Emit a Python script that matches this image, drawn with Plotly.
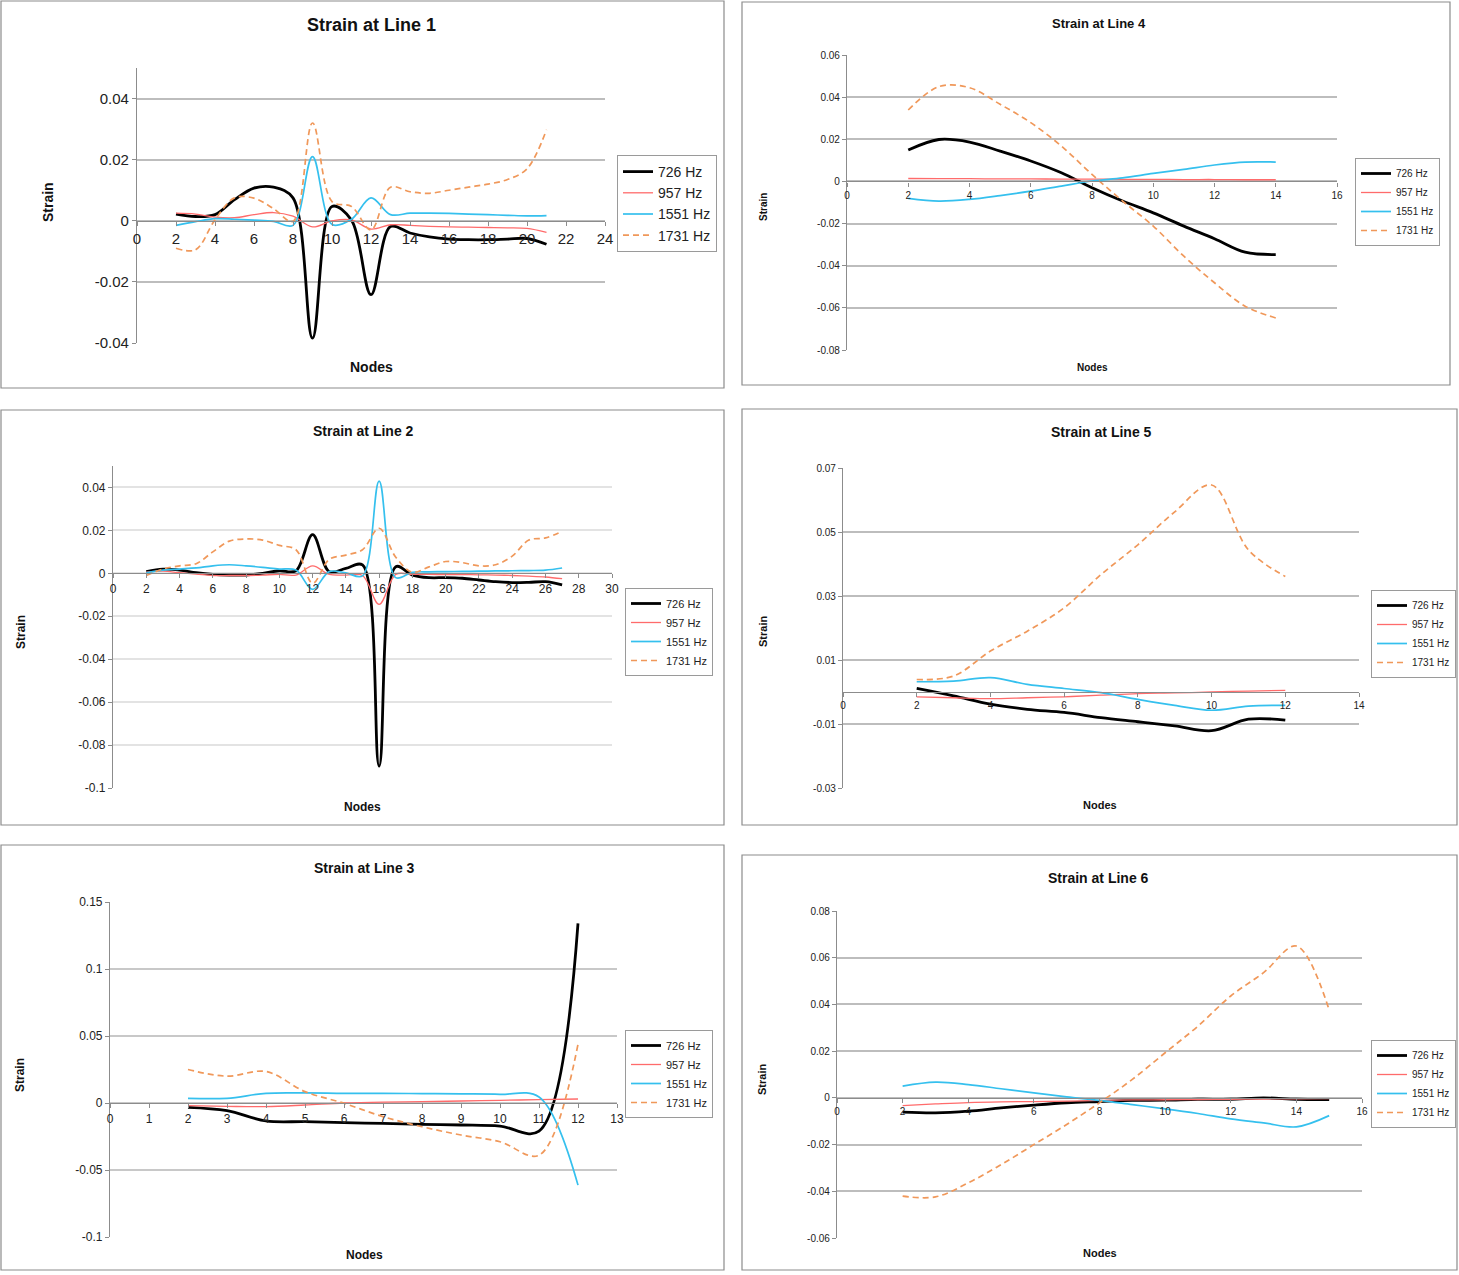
import plotly.graph_objects as go

# ---- data (strain per node) ----
SERIES = ["726 Hz", "957 Hz", "1551 Hz", "1731 Hz"]

L1_NODES = list(range(2, 22))
L1_726 = [0.0022, 0.0014, 0.002, 0.0069, 0.0107, 0.011, 0.0075, -0.0384, 0.0047, 0.0002,
          -0.0242, -0.0019, -0.004, -0.0053, -0.006, -0.0062, -0.0062, -0.006, -0.0058, -0.0077]
L1_957 = [0.0025, 0.0022, 0.0012, 0.001, 0.002, 0.0027, 0.0015, -0.002, 0.0, 0.0003,
          -0.0027, -0.0013, -0.0015, -0.0018, -0.002, -0.0021, -0.0022, -0.0023, -0.0025, -0.0038]
L1_1551 = [-0.0015, -0.0003, 0.0007, 0.0005, 0.0002, -0.0002, -0.0015, 0.021, -0.0012, 0.0005,
           0.0075, 0.002, 0.0025, 0.0025, 0.0024, 0.0022, 0.002, 0.0018, 0.0016, 0.0017]
L1_1731 = [-0.009, -0.0095, 0.0003, 0.0075, 0.0074, 0.004, -0.0002, 0.032, 0.0063, 0.0047,
           -0.003, 0.011, 0.0095, 0.009, 0.01, 0.011, 0.012, 0.0135, 0.017, 0.0298]

L2_NODES = list(range(2, 28))
L2_726 = [0.0008, 0.0019, 0.0015, 0.0003, -0.0005, -0.0008, -0.0008, 0.0, 0.0012, 0.0012,
          0.018, 0.0008, 0.0023, 0.0039, -0.0898, 0.0031, -0.0008, -0.002, -0.002, -0.0023,
          -0.0031, -0.0039, -0.0043, -0.0042, -0.0039, -0.0054]
L2_957 = [0.0005, 0.001, 0.0003, -0.0003, -0.001, -0.001, -0.001, -0.0008, -0.0005, -0.0008,
          0.0035, -0.0005, -0.0008, -0.001, -0.0145, -0.0005, -0.0005, -0.0005, -0.0006, -0.0006,
          -0.0007, -0.0008, -0.001, -0.0013, -0.0017, -0.0025]
L2_1551 = [0.0002, 0.0015, 0.002, 0.0025, 0.0035, 0.004, 0.0035, 0.0028, 0.002, 0.0015,
           -0.0075, 0.0008, 0.0002, -0.0012, 0.043, -0.002, 0.0005, 0.0007, 0.0008, 0.0009,
           0.001, 0.0011, 0.0012, 0.0013, 0.0015, 0.0025]
L2_1731 = [-0.001, 0.002, 0.0035, 0.0045, 0.01, 0.015, 0.016, 0.0155, 0.013, 0.011,
           -0.0046, 0.0065, 0.0085, 0.011, 0.021, 0.0075, 0.0005, 0.003, 0.0055, 0.005,
           0.0035, 0.004, 0.008, 0.0155, 0.0165, 0.0195]

L3_NODES = list(range(2, 13))
L3_726 = [-0.0032, -0.0057, -0.0134, -0.0139, -0.0147, -0.0152, -0.0159, -0.0164, -0.0172, -0.021, 0.134]
L3_957 = [-0.002, -0.0025, -0.0027, -0.0015, 0.0, 0.0007, 0.001, 0.0015, 0.002, 0.0025, 0.003]
L3_1551 = [0.0035, 0.0035, 0.0072, 0.0075, 0.0072, 0.0072, 0.007, 0.0068, 0.0065, 0.0045, -0.0613]
L3_1731 = [0.025, 0.02, 0.0235, 0.0085, -0.0002, -0.0102, -0.0177, -0.0239, -0.0289, -0.039, 0.0438]

L4_NODES = list(range(2, 15))
L4_726 = [0.0149, 0.0199, 0.0187, 0.0144, 0.0097, 0.0041, -0.003, -0.0093, -0.0149, -0.0212,
          -0.0272, -0.0336, -0.0347]
L4_957 = [0.0014, 0.0013, 0.0013, 0.0012, 0.0012, 0.0011, 0.0011, 0.001, 0.001, 0.0009,
          0.0009, 0.0008, 0.0008]
L4_1551 = [-0.008, -0.0093, -0.0085, -0.0067, -0.0046, -0.0022, 0.0002, 0.0017, 0.0038, 0.0057,
           0.0078, 0.0092, 0.0092]
L4_1731 = [0.0339, 0.045, 0.0445, 0.0366, 0.0279, 0.0168, 0.0033, -0.0093, -0.0212, -0.0355,
           -0.0481, -0.0592, -0.0648]

L5_NODES = list(range(2, 13))
L5_726 = [0.0011, -0.0012, -0.0038, -0.0054, -0.0064, -0.008, -0.0093, -0.0106, -0.0121, -0.0085, -0.0088]
L5_957 = [-0.0015, -0.0018, -0.0021, -0.0018, -0.0015, -0.001, -0.0005, -0.0003, 0.0, 0.0003, 0.0005]
L5_1551 = [0.0032, 0.0034, 0.0045, 0.0024, 0.0011, -0.0002, -0.0023, -0.0042, -0.0057, -0.0044, -0.0042]
L5_1731 = [0.0039, 0.005, 0.0128, 0.019, 0.0263, 0.0367, 0.046, 0.0563, 0.0647, 0.0444, 0.0361]

L6_NODES = list(range(2, 16))
L6_726 = [-0.0061, -0.0064, -0.0057, -0.0043, -0.0031, -0.0021, -0.0016, -0.0011, -0.001, -0.0006,
          -0.0006, 0.0, -0.0006, -0.0007]
L6_957 = [-0.0033, -0.0026, -0.002, -0.0017, -0.0016, -0.0014, -0.0011, -0.0009, -0.0008, -0.0007,
          -0.0006, -0.0005, -0.0004, -0.0003]
L6_1551 = [0.005, 0.0067, 0.0057, 0.0039, 0.0021, 0.0004, -0.0011, -0.0029, -0.0047, -0.0067,
           -0.009, -0.0107, -0.0124, -0.0076]
L6_1731 = [-0.0421, -0.0424, -0.0364, -0.0286, -0.02, -0.0114, -0.0021, 0.0079, 0.0193, 0.0307,
           0.0436, 0.0536, 0.065, 0.0376]

# y tick values per panel
L1_YTICKS = [-0.04, -0.02, 0, 0.02, 0.04]
L2_YTICKS = [-0.1, -0.08, -0.06, -0.04, -0.02, 0, 0.02, 0.04]
L3_YTICKS = [-0.1, -0.05, 0, 0.05, 0.1, 0.15]
L4_YTICKS = [-0.08, -0.06, -0.04, -0.02, 0, 0.02, 0.04, 0.06]
L5_YTICKS = [-0.03, -0.01, 0.01, 0.03, 0.05, 0.07]
L6_YTICKS = [-0.06, -0.04, -0.02, 0, 0.02, 0.04, 0.06, 0.08]

panels = [
    dict(title="Strain at Line 1", nodes=L1_NODES, ys=[L1_726, L1_957, L1_1551, L1_1731],
         xr=[0, 24], dx=2, yr=[-0.04, 0.05], yt=L1_YTICKS),
    dict(title="Strain at Line 4", nodes=L4_NODES, ys=[L4_726, L4_957, L4_1551, L4_1731],
         xr=[0, 16], dx=2, yr=[-0.08, 0.06], yt=L4_YTICKS),
    dict(title="Strain at Line 2", nodes=L2_NODES, ys=[L2_726, L2_957, L2_1551, L2_1731],
         xr=[0, 30], dx=2, yr=[-0.1, 0.05], yt=L2_YTICKS),
    dict(title="Strain at Line 5", nodes=L5_NODES, ys=[L5_726, L5_957, L5_1551, L5_1731],
         xr=[0, 14], dx=2, yr=[-0.03, 0.07], yt=L5_YTICKS),
    dict(title="Strain at Line 3", nodes=L3_NODES, ys=[L3_726, L3_957, L3_1551, L3_1731],
         xr=[0, 13], dx=1, yr=[-0.1, 0.15], yt=L3_YTICKS),
    dict(title="Strain at Line 6", nodes=L6_NODES, ys=[L6_726, L6_957, L6_1551, L6_1731],
         xr=[0, 16], dx=2, yr=[-0.06, 0.08], yt=L6_YTICKS),
]

# pixel geometry of each panel (frame, plot area, legend right/top, labels)
geom = [
    dict(frame=(1, 1, 724, 388), plot=(137, 68, 605, 343), leg=(717, 155), title=(371, 25),
         ylab=(48, 202), xlab=(371, 367), fs_t=18, fs_tick=15, fs_leg=14, fs_lab=14, grid="#bdbdbd"),
    dict(frame=(742, 2, 1450, 385), plot=(847, 55, 1337, 350), leg=(1440, 158), title=(1099, 23),
         ylab=(763, 207), xlab=(1092, 367), fs_t=13, fs_tick=10, fs_leg=10, fs_lab=10, grid="#bdbdbd"),
    dict(frame=(1, 410, 724, 825), plot=(113, 466, 612, 788), leg=(713, 588), title=(363, 431),
         ylab=(21, 632), xlab=(362, 807), fs_t=14, fs_tick=12, fs_leg=11, fs_lab=12, grid="#e3e3e3"),
    dict(frame=(742, 409, 1457, 825), plot=(843, 468, 1359, 788), leg=(1456, 590), title=(1101, 432),
         ylab=(763, 632), xlab=(1100, 805), fs_t=14, fs_tick=10, fs_leg=10, fs_lab=11, grid="#bdbdbd"),
    dict(frame=(1, 845, 724, 1270), plot=(110, 902, 617, 1237), leg=(713, 1030), title=(364, 868),
         ylab=(20, 1075), xlab=(364, 1255), fs_t=14, fs_tick=12, fs_leg=11, fs_lab=12, grid="#c8c8c8"),
    dict(frame=(742, 855, 1457, 1270), plot=(837, 911, 1362, 1238), leg=(1456, 1040), title=(1098, 878),
         ylab=(762, 1080), xlab=(1100, 1253), fs_t=14, fs_tick=10, fs_leg=10, fs_lab=11, grid="#bdbdbd"),
]

colors = ["#000000", "#ff6b6b", "#35c0ee", "#f0985a"]
widths = [2.8, 1.3, 1.7, 1.7]
dashes = ["solid", "solid", "solid", "6px,4px"]

W, H = 1459, 1275
FONT = "Liberation Sans, Arial, sans-serif"


def fx(p):
    return p / W


def fy(p):
    return 1 - p / H


def label(text, pos, size, angle=0):
    return dict(text=text, x=fx(pos[0]), y=fy(pos[1]), xref="paper", yref="paper",
                xanchor="center", yanchor="middle", showarrow=False, textangle=angle,
                font=dict(size=size, color="#111", family=FONT))


fig = go.Figure()
layout = {}
shapes = []
annotations = []

for i, (pn, g) in enumerate(zip(panels, geom)):
    k = "" if i == 0 else str(i + 1)
    leg = "legend" if i == 0 else f"legend{i + 1}"
    for j, name in enumerate(SERIES):
        fig.add_trace(go.Scatter(
            x=pn["nodes"], y=pn["ys"][j], name=name, mode="lines",
            line=dict(color=colors[j], width=widths[j], dash=dashes[j], shape="spline", smoothing=1),
            xaxis="x" + k, yaxis="y" + k, legend=leg, showlegend=True,
        ))

    l, t, r, b = g["plot"]
    y0, y1 = fy(b), fy(t)
    ymin, ymax = pn["yr"]
    zero_pos = y0 + (y1 - y0) * (0 - ymin) / (ymax - ymin)

    tickfont = dict(size=g["fs_tick"], color="#222", family=FONT)
    layout["xaxis" + k] = dict(
        domain=[fx(l), fx(r)], range=pn["xr"], anchor="free", position=zero_pos, automargin=False,
        tickmode="linear", tick0=0, dtick=pn["dx"], showgrid=False, zeroline=False,
        showline=True, linecolor="#8c8c8c", linewidth=1.2, ticks="outside", ticklen=4,
        tickcolor="#8c8c8c", tickfont=tickfont,
    )
    layout["yaxis" + k] = dict(
        domain=[y0, y1], range=pn["yr"], anchor="x" + k, automargin=False, tickmode="array",
        tickvals=pn["yt"], ticktext=[f"{v:g}" for v in pn["yt"]],
        showgrid=True, gridcolor=g["grid"], gridwidth=1.5,
        zeroline=False, showline=True, linecolor="#8c8c8c", linewidth=1.2, ticks="outside",
        ticklen=4, tickcolor="#8c8c8c", tickfont=tickfont,
    )
    layout[leg] = dict(
        x=fx(g["leg"][0]), y=fy(g["leg"][1]), xanchor="right", yanchor="top",
        bordercolor="#9a9a9a", borderwidth=1, bgcolor="white", tracegroupgap=0,
        font=dict(size=g["fs_leg"], color="#222", family=FONT),
    )

    fl, ft, fr, fb = g["frame"]
    shapes.append(dict(type="rect", xref="paper", yref="paper", x0=fx(fl), x1=fx(fr),
                       y0=fy(fb), y1=fy(ft), line=dict(color="#8c8c8c", width=1.2)))

    annotations.append(label(f"<b>{pn['title']}</b>", g["title"], g["fs_t"]))
    annotations.append(label("<b>Strain</b>", g["ylab"], g["fs_lab"], -90))
    annotations.append(label("<b>Nodes</b>", g["xlab"], g["fs_lab"]))

fig.update_layout(
    template="none",
    width=W, height=H, margin=dict(l=0, r=0, t=0, b=0, pad=0, autoexpand=False),
    paper_bgcolor="white", plot_bgcolor="white",
    font=dict(family=FONT, color="#222"),
    shapes=shapes, annotations=annotations, **layout,
)

# drop the page's default body margin so the figure sits at the window origin
fig.write_html("out.html", config={"displayModeBar": False},
               post_script="document.body.style.margin='0';")
